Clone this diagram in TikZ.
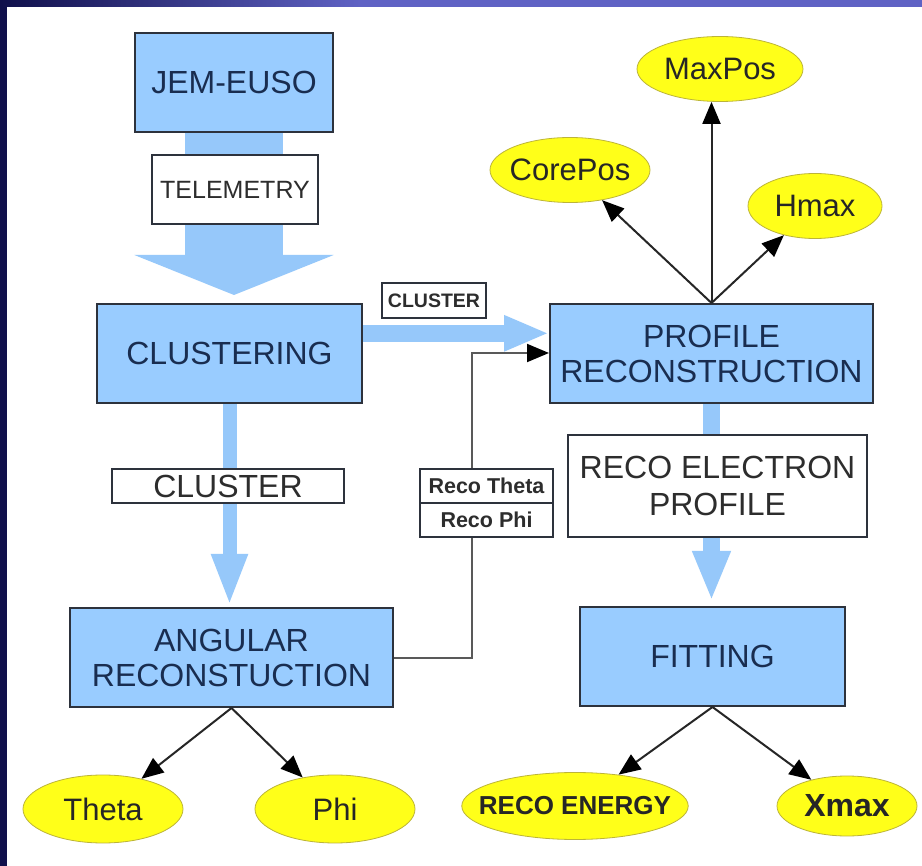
\documentclass[tikz,border=0pt]{standalone}
\usepackage{fontspec}
\setmainfont{Liberation Sans}
\usetikzlibrary{arrows.meta,shapes.geometric,calc}
\definecolor{boxblue}{RGB}{153,204,255}
\definecolor{flowblue}{RGB}{150,200,250}
\definecolor{boxline}{RGB}{45,50,60}
\definecolor{navytext}{RGB}{25,45,80}
\definecolor{graytext}{RGB}{45,45,45}
\definecolor{ellyellow}{RGB}{255,255,25}
\definecolor{bgnavy}{RGB}{16,16,75}
\definecolor{bgviolet}{RGB}{95,98,196}
\pgfdeclarelayer{back}
\pgfdeclarelayer{mid}
\pgfsetlayers{back,mid,main}

\begin{document}
\begin{tikzpicture}[x=1pt,y=-1pt,
  block/.style={draw=boxline,line width=2pt,fill=boxblue,text=navytext,align=center,inner sep=0pt,minimum height=99pt,font=\fontsize{32}{35}\selectfont},
  tag/.style={draw=boxline,line width=2pt,fill=white,text=graytext,align=center,inner sep=0pt},
  result/.style={ellipse,draw=yellow!70!black,line width=0.8pt,fill=ellyellow,text=black!85,inner sep=0pt,minimum height=65pt,font=\fontsize{31}{34}\selectfont},
  flow/.style={line width=#1,draw=flowblue},
  link/.style={draw=black!85,line width=2pt,-{Triangle[length=22pt,width=18pt,color=black]}}]
\begin{pgfonlayer}{back}
\fill[bgnavy] (0,0) rectangle (922,866);
\shade[left color=bgnavy,right color=bgviolet] (0,0) rectangle (360,7);
\fill[bgviolet] (360,0) rectangle (922,7);
\fill[white] (7,7) rectangle (922,866);
\end{pgfonlayer}
\useasboundingbox (0,0) rectangle (922,866);

\node[block,minimum width=198pt] (jem) at (234,82.5) {JEM-EUSO};
\node[tag,minimum width=166pt,minimum height=69pt,font=\fontsize{25}{28}\selectfont] (telemetry) at (235,189.5) {TELEMETRY};
\node[block,minimum width=265pt] (clustering) at (229.5,353.5) {CLUSTERING};
\node[tag,minimum width=232pt,minimum height=34pt,font=\fontsize{32}{35}\selectfont] (cluster) at (228,486) {CLUSTER};
\node[block,minimum width=323pt] (angular) at (231.5,657.5) {ANGULAR\\RECONSTUCTION};
\node[result,minimum width=160pt,minimum height=68pt] (theta) at (103,809) {Theta};
\node[result,minimum width=160pt,minimum height=68pt] (phi) at (335,809) {Phi};

\node[tag,minimum width=104pt,minimum height=35pt,font=\bfseries\fontsize{19.5}{22}\selectfont] (clustertag) at (434,300.5) {CLUSTER};
\node[tag,minimum width=133pt,minimum height=34pt,font=\bfseries\fontsize{21.5}{24}\selectfont] (recotheta) at (486.5,486) {Reco Theta};
\node[tag,minimum width=133pt,minimum height=34pt,font=\bfseries\fontsize{21.5}{24}\selectfont] (recophi) at (486.5,520) {Reco Phi};

\node[block,minimum width=323pt] (profile) at (711.5,353.5) {PROFILE\\RECONSTRUCTION};
\node[tag,minimum width=299pt,minimum height=102pt,font=\fontsize{32}{37}\selectfont] (electron) at (717.5,486) {RECO ELECTRON\\PROFILE};
\node[block,minimum width=265pt] (fitting) at (712.5,656.5) {FITTING};
\node[result,minimum width=226pt,minimum height=67pt,inner xsep=-16pt,font=\bfseries\fontsize{26}{29}\selectfont] (energy) at (575,806) {RECO ENERGY};
\node[result,minimum width=140pt,minimum height=60pt,font=\bfseries\fontsize{32}{35}\selectfont] (xmax) at (847,806) {Xmax};
\node[result,minimum width=166pt] (maxpos) at (720,69) {MaxPos};
\node[result,minimum width=160pt,inner xsep=-4pt] (corepos) at (570,170) {CorePos};
\node[result,minimum width=134pt] (hmax) at (815,206) {Hmax};

\coordinate (clusterout) at ($(clustering.north east)!0.3!(clustering.south east)$);
\coordinate (bend) at (472,353);

\begin{pgfonlayer}{mid}
\draw[flow=98pt,-{Triangle[length=40pt,width=198pt]},shorten >=8pt] (jem.south) -- (jem.south |- clustering.north);
\draw[flow=14pt,-{Triangle[length=52pt,width=33pt]},shorten >=1pt] (clustering.south) -- (clustering.south |- angular.north);
\draw[flow=17pt,-{Triangle[length=45pt,width=33pt]}] (clusterout) -- (clusterout -| profile.west);
\draw[flow=17pt,-{Triangle[length=50pt,width=35pt]},shorten >=5pt] (profile.south) -- (profile.south |- fitting.north);
\draw[link,draw=black!65] (angular.east) -| (bend) -- (bend -| profile.west);
\end{pgfonlayer}

\draw[link] (profile.north) -- (corepos);
\draw[link] (profile.north) -- (profile.north |- maxpos.south);
\draw[link] (profile.north) -- (hmax);
\draw[link] (angular.south) -- (theta);
\draw[link] (angular.south) -- (phi);
\draw[link] (fitting.south) -- (energy);
\draw[link] (fitting.south) -- (xmax);
\end{tikzpicture}
\end{document}
